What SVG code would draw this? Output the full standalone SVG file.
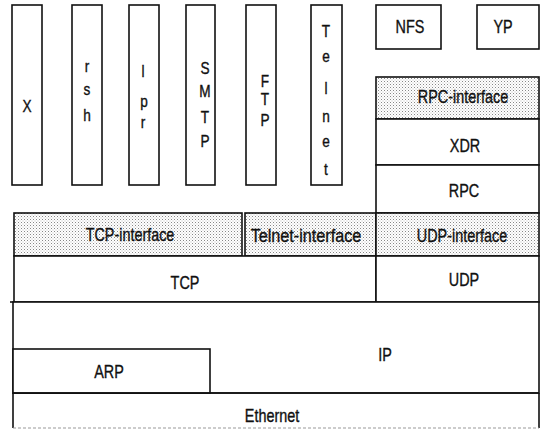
<svg xmlns="http://www.w3.org/2000/svg" width="545" height="437" viewBox="0 0 545 437">
<defs>
<pattern id="dots" width="3" height="3" patternUnits="userSpaceOnUse">
<rect width="3" height="3" fill="#ffffff"/>
<rect x="0" y="0" width="1" height="1" fill="#888888"/>
<rect x="1.5" y="1.5" width="1" height="1" fill="#bbbbbb"/>
</pattern>
</defs>
<style>
.b{fill:#ffffff;stroke:#111;stroke-width:1.6}
.s{fill:url(#dots);stroke:#111;stroke-width:1.6}
text{font-family:"Liberation Sans",Arial,sans-serif;font-size:18px;fill:#111;stroke:#111;stroke-width:0.35;text-anchor:middle}
.v{font-size:16px}
</style>
<g id="X"><rect class="b" x="12" y="5" width="30" height="180"/><text class="v" transform="translate(27,112) scale(0.85,1)">X</text></g>
<g id="rsh"><rect class="b" x="72" y="5" width="30" height="180"/><text class="v" transform="translate(87,72) scale(0.85,1)">r</text><text class="v" transform="translate(87,95) scale(0.85,1)">s</text><text class="v" transform="translate(87,121) scale(0.85,1)">h</text></g>
<g id="lpr"><rect class="b" x="129" y="5" width="30" height="180"/><text class="v" transform="translate(143,77) scale(0.85,1)">l</text><text class="v" transform="translate(144,107) scale(0.85,1)">p</text><text class="v" transform="translate(143,128) scale(0.85,1)">r</text></g>
<g id="SMTP"><rect class="b" x="186" y="5" width="29" height="180"/><text class="v" transform="translate(205,74) scale(0.85,1)">S</text><text class="v" transform="translate(205,97) scale(0.85,1)">M</text><text class="v" transform="translate(205,123) scale(0.85,1)">T</text><text class="v" transform="translate(205,147) scale(0.85,1)">P</text></g>
<g id="FTP"><rect class="b" x="246" y="5" width="30" height="180"/><text class="v" transform="translate(265,87) scale(0.85,1)">F</text><text class="v" transform="translate(265,105) scale(0.85,1)">T</text><text class="v" transform="translate(265,126) scale(0.85,1)">P</text></g>
<g id="Telnet"><rect class="b" x="311" y="5" width="31" height="180"/><text class="v" transform="translate(326,37) scale(0.85,1)">T</text><text class="v" transform="translate(326,62) scale(0.85,1)">e</text><text class="v" transform="translate(326,94) scale(0.85,1)">l</text><text class="v" transform="translate(326,122) scale(0.85,1)">n</text><text class="v" transform="translate(326,147) scale(0.85,1)">e</text><text class="v" transform="translate(326,175) scale(0.85,1)">t</text></g>
<g id="NFS"><rect class="b" x="376" y="5" width="65" height="44"/><text transform="translate(410,33) scale(0.8,1)">NFS</text></g>
<g id="YP"><rect class="b" x="477" y="5" width="62" height="44"/><text transform="translate(503,33) scale(0.8,1)">YP</text></g>
<g id="RPC-interface"><rect class="s" x="376" y="77" width="163" height="42"/><text transform="translate(463,103) scale(0.8,1)">RPC-interface</text></g>
<g id="XDR"><rect class="b" x="376" y="119" width="163" height="46"/><text transform="translate(465,152) scale(0.8,1)">XDR</text></g>
<g id="RPC"><rect class="b" x="376" y="165" width="163" height="48"/><text transform="translate(464,197) scale(0.8,1)">RPC</text></g>
<g id="TCP-interface"><rect class="s" x="14" y="213" width="228" height="43"/><text transform="translate(130,241) scale(0.8,1)">TCP-interface</text></g>
<g id="Telnet-interface"><rect class="s" x="245" y="213" width="131" height="43"/><text transform="translate(306,242) scale(0.9,1)">Telnet-interface</text></g>
<g id="UDP-interface"><rect class="s" x="376" y="213" width="163" height="43"/><text transform="translate(462,242) scale(0.8,1)">UDP-interface</text></g>
<g id="TCP"><rect class="b" x="14" y="256" width="362" height="46"/><text transform="translate(185,289) scale(0.8,1)">TCP</text></g>
<g id="UDP"><rect class="b" x="376" y="256" width="163" height="46"/><text transform="translate(464,286) scale(0.8,1)">UDP</text></g>
<g id="IP"><rect class="b" x="13" y="302" width="526" height="91"/><line x1="10" y1="302" x2="14" y2="302" stroke="#111" stroke-width="1.6"/><text transform="translate(385,361) scale(0.8,1)">IP</text></g>
<g id="ARP"><rect class="b" x="13" y="349" width="197" height="44"/><text transform="translate(109,378) scale(0.8,1)">ARP</text></g>
<g id="Ethernet"><path d="M13 393 V428 M539 393 V428" stroke="#111" stroke-width="1.6" fill="none"/><line x1="13" y1="393" x2="539" y2="393" stroke="#111" stroke-width="1.6"/><line x1="13" y1="428" x2="539" y2="428" stroke="#999" stroke-width="1" stroke-dasharray="3 2"/><text transform="translate(272,422) scale(0.8,1)">Ethernet</text></g>
<g id="connectors"></g>
</svg>
